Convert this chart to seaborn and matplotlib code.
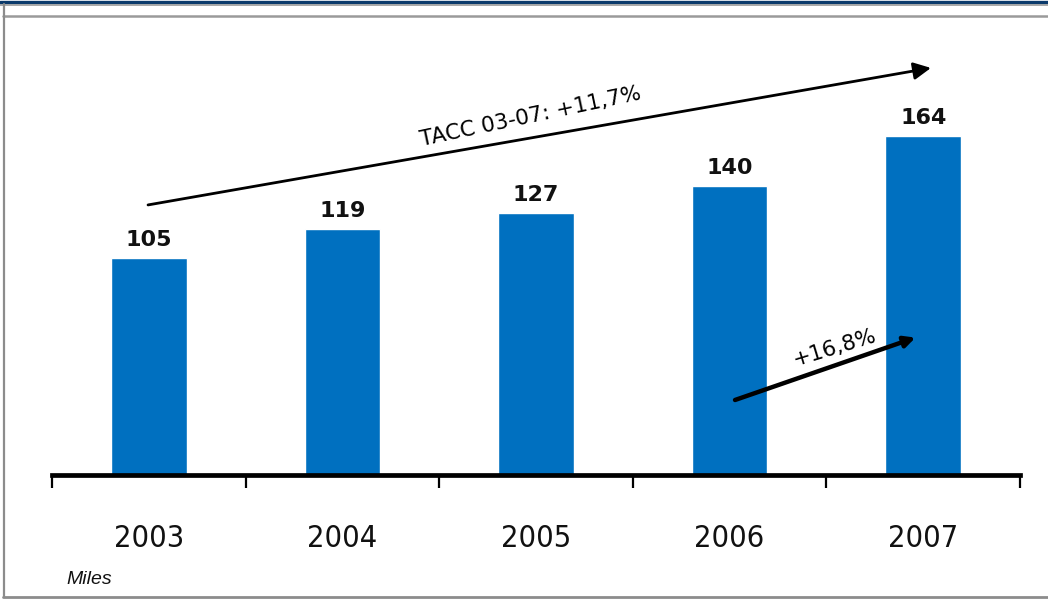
import matplotlib
matplotlib.use("Agg")
import matplotlib.pyplot as plt
from matplotlib.lines import Line2D
from matplotlib import font_manager
import seaborn as sns

years = ["2003", "2004", "2005", "2006", "2007"]
values = [105, 119, 127, 140, 164]
cagr_label = "TACC 03-07: +11,7%"
last_growth_label = "+16,8%"
unit_label = "Miles"

bar_color = "#0070C0"
grey = "#8c8c8c"

sns.set_style("white")
plt.rcParams["font.family"] = ["DejaVu Sans"]

# narrow, regular-weight face for the year labels
year_font = font_manager.FontProperties(family="DejaVu Sans", stretch="condensed",
                                        weight="normal", size=22)

W, H = 1048, 600
fig = plt.figure(figsize=(W / 100, H / 100), dpi=100)

ax = fig.add_axes([52 / W, 1 - 475 / H, (1020 - 52) / W, (475 - 20) / H])
sns.barplot(x=years, y=values, color=bar_color, saturation=1, width=0.39, ax=ax)
ax.set_xlim(-0.5, 4.5)
ax.set_ylim(0, 220.2)

for s in ["top", "right", "left"]:
    ax.spines[s].set_visible(False)
ax.spines["bottom"].set_linewidth(3.4)
ax.spines["bottom"].set_color("black")
ax.set_yticks([])
ax.set_ylabel("")
ax.set_xlabel("")

ax.set_xticks(range(len(years)), labels=years)
ax.set_xticks([i - 0.5 for i in range(len(years) + 1)], minor=True)
ax.tick_params(axis="x", which="major", length=0, pad=35)
ax.tick_params(axis="x", which="minor", length=9, width=1.6, color="black",
               direction="out", bottom=True)
for lab in ax.get_xticklabels():
    lab.set_fontproperties(year_font)
    lab.set_color("#111111")

for i, v in enumerate(values):
    ax.annotate(str(v), (i, v), xytext=(0, 8.6), textcoords="offset points",
                ha="center", va="baseline", fontsize=16, fontweight="bold",
                color="#111111")

# growth arrows
ax.annotate("", xy=(4.04, 197), xytext=(-0.004, 130.7),
            arrowprops=dict(arrowstyle="-|>", lw=2.0, color="black",
                            mutation_scale=26, shrinkA=0, shrinkB=0),
            annotation_clip=False)
ax.text(1.97, 173.5, cagr_label, rotation=12, ha="center", va="center",
        fontsize=15.5, color="black", rotation_mode="anchor")

ax.annotate("", xy=(3.96, 66.5), xytext=(3.028, 36.3),
            arrowprops=dict(arrowstyle="-|>", lw=3.2, color="black",
                            mutation_scale=16, shrinkA=0, shrinkB=0))
ax.text(3.545, 61.5, last_growth_label, rotation=17, ha="center", va="center",
        fontsize=15.5, color="black", rotation_mode="anchor")

fig.text(66 / W, 1 - 584 / H, unit_label, fontsize=14, fontstyle="italic",
         family=["Liberation Sans", "DejaVu Sans"], color="#111111",
         ha="left", va="baseline")

# page frame
def hline(y, color, lw, x0=0, x1=W):
    fig.add_artist(Line2D([x0 / W, x1 / W], [1 - y / H, 1 - y / H],
                          transform=fig.transFigure, color=color, lw=lw))

def vline(x, y0, y1, color, lw):
    fig.add_artist(Line2D([x / W, x / W], [1 - y0 / H, 1 - y1 / H],
                          transform=fig.transFigure, color=color, lw=lw))

hline(1.5, "#0b3a6b", 2.4)
hline(4.8, "#9a9a9a", 1.2)
hline(16.2, "#9a9a9a", 1.8, x0=3)
hline(596.5, grey, 2.0, x0=3)
vline(3.8, 4, 597, grey, 1.6)

fig.savefig("out.png", dpi=100)
